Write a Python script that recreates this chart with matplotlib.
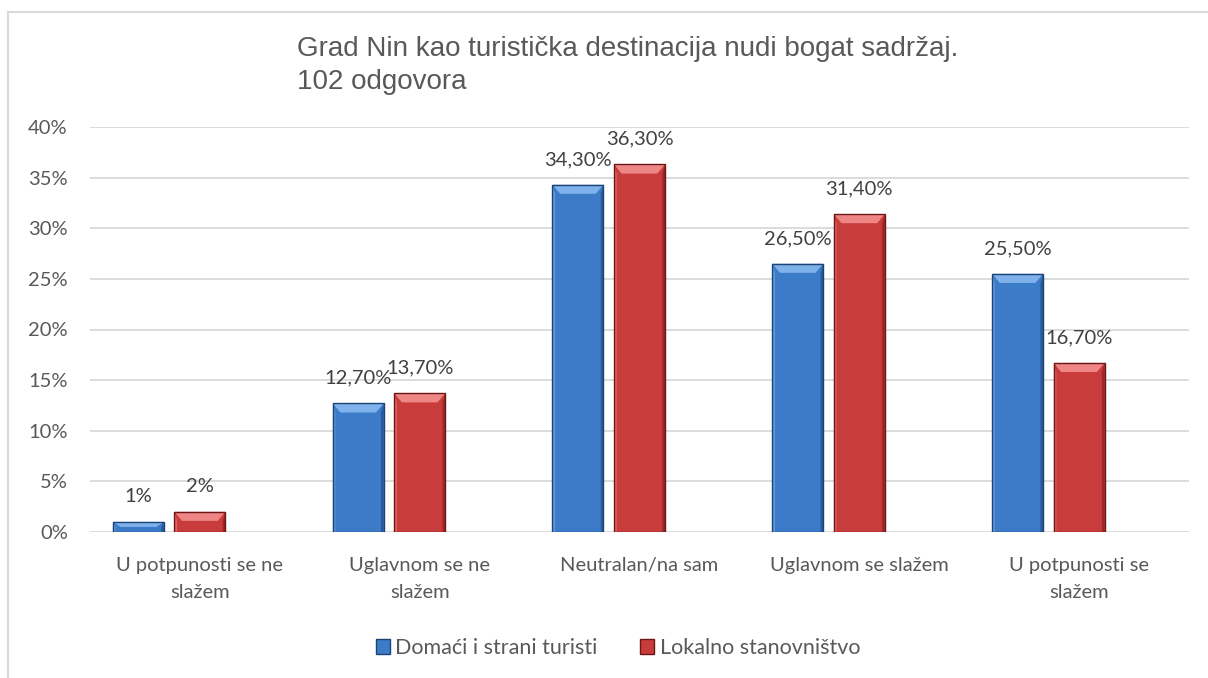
import matplotlib
matplotlib.use("Agg")
import matplotlib.pyplot as plt
from matplotlib.patches import Polygon, Rectangle
from matplotlib.lines import Line2D
import numpy as np

categories = ["U potpunosti se ne\nslažem", "Uglavnom se ne\nslažem", "Neutralan/na sam",
              "Uglavnom se slažem", "U potpunosti se\nslažem"]
series_names = ["Domaći i strani turisti", "Lokalno stanovništvo"]
tourists = [0.01, 0.127, 0.343, 0.265, 0.255]
locals_ = [0.02, 0.137, 0.363, 0.314, 0.167]
tourist_labels = ["1%", "12,70%", "34,30%", "26,50%", "25,50%"]
local_labels = ["2%", "13,70%", "36,30%", "31,40%", "16,70%"]
yticks = [0, 0.05, 0.10, 0.15, 0.20, 0.25, 0.30, 0.35, 0.40]
ytick_labels = ["0%", "5%", "10%", "15%", "20%", "25%", "30%", "35%", "40%"]
title = "Grad Nin kao turistička destinacija nudi bogat sadržaj.\n102 odgovora"

W, H = 1208, 678
fig = plt.figure(figsize=(W / 100, H / 100), dpi=100)
fig.patch.set_facecolor("white")

# chart border (left and top visible)
fig.add_artist(Line2D([8 / W, 8 / W], [0, 1 - 12 / H], color="#D9D9D9", lw=1.5, transform=fig.transFigure))
fig.add_artist(Line2D([8 / W, 1], [1 - 12 / H, 1 - 12 / H], color="#D9D9D9", lw=1.5, transform=fig.transFigure))

ax = fig.add_axes([90 / W, 1 - 532 / H, (1189 - 90) / W, (532 - 127) / H])
ax.set_xlim(-0.5, 4.5)
ax.set_ylim(0, 0.40)
for s in ax.spines.values():
    s.set_visible(False)
ax.set_yticks(yticks)
ax.set_yticklabels(ytick_labels)
ax.grid(axis="y", color="#D9D9D9", lw=1.3)
ax.set_axisbelow(True)
ax.tick_params(length=0, labelsize=14.5, labelcolor="#595959", pad=16)
ax.tick_params(axis="x", pad=18)
x = np.arange(len(categories))
ax.set_xticks(x)
ax.set_xticklabels(categories, linespacing=1.75)
for t in ax.get_xticklabels() + ax.get_yticklabels():
    t.set_fontfamily("Lato")

width = 0.232
offsets = [-0.28, 0.0]
styles = [
    dict(face="#3C7BC8", edge="#1D4376", light="#7FB1EA", dark="#285A9C"),
    dict(face="#C93C3C", edge="#6E1616", light="#EE8686", dark="#9A2828"),
]

def bevel_bar(xc, h, st):
    x0 = xc - width / 2
    x1 = xc + width / 2
    bx = 0.035  # bevel in data-x
    by = min(0.009, h / 2)
    ax.add_patch(Rectangle((x0, 0), width, h, facecolor=st["face"], edgecolor="none", zorder=3))
    ax.add_patch(Polygon([(x0, h), (x1, h), (x1 - bx, h - by), (x0 + bx, h - by)],
                         closed=True, facecolor=st["light"], edgecolor="none", zorder=4))
    ax.add_patch(Polygon([(x0, 0), (x0, h), (x0 + bx * 0.35, h - by), (x0 + bx * 0.35, 0)],
                         closed=True, facecolor=st["light"], alpha=0.55, edgecolor="none", zorder=4))
    ax.add_patch(Polygon([(x1, 0), (x1, h), (x1 - bx * 0.35, h - by), (x1 - bx * 0.35, 0)],
                         closed=True, facecolor=st["dark"], edgecolor="none", zorder=4))
    ax.add_patch(Rectangle((x0, 0), width, h, facecolor="none", edgecolor=st["edge"], lw=1.0, zorder=5))

for vals, labs, off, st in [(tourists, tourist_labels, offsets[0], styles[0]),
                            (locals_, local_labels, offsets[1], styles[1])]:
    for xi, v, lab in zip(x, vals, labs):
        bevel_bar(xi + off, v, st)
        ax.annotate(lab, (xi + off, v), xytext=(0, 12), textcoords="offset points",
                    ha="center", va="bottom", fontsize=14.5, color="#404040", family="Lato", zorder=6)

fig.text(297 / W, 1 - 36 / H, title, ha="left", va="top", fontsize=20, color="#595959",
         family="Liberation Sans", linespacing=1.36)

handles = [Rectangle((0, 0), 1, 1, facecolor=styles[0]["face"], edgecolor=styles[0]["edge"]),
           Rectangle((0, 0), 1, 1, facecolor=styles[1]["face"], edgecolor=styles[1]["edge"])]
leg = fig.legend(handles, series_names, loc="center", bbox_to_anchor=(618 / W, 1 - 648 / H),
                 ncol=2, frameon=False, handlelength=0.65, handleheight=0.65, handletextpad=0.25,
                 columnspacing=2.0, prop={"family": "Lato", "size": 15.5})
for t in leg.get_texts():
    t.set_color("#595959")

fig.savefig("out.png", dpi=100, facecolor="white")
